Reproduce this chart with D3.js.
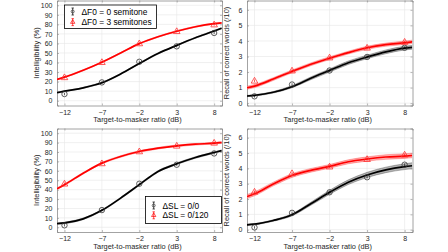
<!DOCTYPE html>
<html lang="en">
<head>
<meta charset="UTF-8">
<title>Intelligibility and recall</title>
<style>
    body { margin: 0; background: #fff; }
    svg { display: block; font-family: "Liberation Sans", Arial, sans-serif; }
</style>
</head>
<body>
<svg id="chart" width="448" height="252"></svg>
<script src="https://cdn.jsdelivr.net/npm/d3@7/dist/d3.min.js"></script>
<script>
// measured conditions (dB)
const tmr = [-12, -7, -2, 3, 8]
const fitX = [-13, -12, -9.5, -7, -4.5, -2, 0.5, 3, 5.5, 8, 9]

// top-left: intelligibility, ΔF0
const intF0zero = [7, 19.2, 40.8, 57, 71]
const intF0three = [24.5, 40.4, 60, 72.8, 79.8]
const fitIntF0zero = [8.4, 10, 13.5, 18.8, 28, 39, 49.5, 58, 66, 73, 76]
const fitIntF0three = [22.4, 24.7, 32, 40.4, 50, 59.8, 67, 72.8, 77.5, 80.7, 81.5]

// top-right: recall, ΔF0
const recF0zero = [0.44, 1.2, 2.1, 2.97, 3.56]
const recF0three = [1.44, 2.09, 2.93, 3.56, 3.94]
const fitRecF0zero = [0.46, 0.5, 0.7, 1.06, 1.6, 2.1, 2.6, 2.97, 3.3, 3.54, 3.59]
const fitRecF0three = [0.99, 1.1, 1.55, 2.04, 2.5, 2.89, 3.25, 3.56, 3.76, 3.88, 3.94]
const bandRecF0zero = [0.04, 0.04, 0.05, 0.07, 0.09, 0.1, 0.11, 0.11, 0.12, 0.12, 0.12]
const bandRecF0three = [0.1, 0.1, 0.09, 0.09, 0.09, 0.09, 0.09, 0.1, 0.1, 0.11, 0.11]

// bottom-left: intelligibility, ΔSL
const intSLzero = [2.1, 18.3, 46.3, 66.5, 78.5]
const intSLhigh = [46.3, 67.9, 80.6, 86.6, 89.8]
const fitIntSLzero = [3.9, 4.6, 9, 18, 31, 45.3, 59.4, 67.5, 74.2, 79.5, 81.5]
const fitIntSLhigh = [41, 45.3, 57.5, 68.2, 75.3, 80.6, 84.1, 86.6, 88.3, 89.4, 90.1]

// bottom-right: recall, ΔSL
const recSLzero = [0.15, 1.1, 2.44, 3.42, 4.24]
const recSLhigh = [2.47, 3.68, 4.11, 4.6, 4.89]
const fitRecSLzero = [0.32, 0.36, 0.6, 0.97, 1.69, 2.44, 3.1, 3.57, 3.9, 4.11, 4.17]
const fitRecSLhigh = [2.16, 2.34, 2.98, 3.53, 3.87, 4.13, 4.43, 4.61, 4.74, 4.8, 4.84]
const bandRecSLzero = [0.04, 0.04, 0.05, 0.07, 0.1, 0.13, 0.15, 0.17, 0.18, 0.19, 0.2]
const bandRecSLhigh = [0.13, 0.13, 0.12, 0.12, 0.12, 0.12, 0.13, 0.14, 0.15, 0.15, 0.15]

const intTicks = d3.range(0, 101, 10)
const recTicks = d3.range(0, 7, 1)
const xLabel = "Target-to-masker ratio (dB)"
const intLabel = "Intelligibility (%)"
const recLabel = "Recall of correct words (/10)"

const black = "#000", red = "#ff0000"

const svg = d3.select("#chart")

const panels = [
    { x0: 57, x1: 222, y0: 0.5, y1: 105.5, dom: [-5, 105], ticks: intTicks, label: intLabel, band: 1,
      series: [[intF0zero, fitIntF0zero, null, black], [intF0three, fitIntF0three, null, red]],
      err: 1.2, legend: ["ΔF0 = 0 semitone", "ΔF0 = 3 semitones"], legPos: "tl" },
    { x0: 247, x1: 412.5, y0: 0.5, y1: 105.5, dom: [-0.15, 6.6], ticks: recTicks, label: recLabel,
      series: [[recF0zero, fitRecF0zero, bandRecF0zero, black], [recF0three, fitRecF0three, bandRecF0three, red]],
      err: 0.08 },
    { x0: 57, x1: 222, y0: 128.5, y1: 232, dom: [-5, 105], ticks: intTicks, label: intLabel, band: 1.3,
      series: [[intSLzero, fitIntSLzero, null, black], [intSLhigh, fitIntSLhigh, null, red]],
      err: 1.2, legend: ["ΔSL = 0/0", "ΔSL = 0/120"], legPos: "br" },
    { x0: 247, x1: 412.5, y0: 128.5, y1: 232, dom: [-0.15, 6.6], ticks: recTicks, label: recLabel,
      series: [[recSLzero, fitRecSLzero, bandRecSLzero, black], [recSLhigh, fitRecSLhigh, bandRecSLhigh, red]],
      err: 0.08 }
]

panels.forEach(p => drawPanel(p))

function drawPanel(p) {
    let x = d3.scaleLinear().domain([-13, 9.05]).range([p.x0, p.x1])
    let y = d3.scaleLinear().domain(p.dom).range([p.y1, p.y0])
    let g = svg.append("g")

    // grid
    g.append("g").selectAll("line").data(p.ticks).join("line")
        .attr("x1", p.x0).attr("x2", p.x1)
        .attr("y1", d => y(d)).attr("y2", d => y(d))
        .attr("stroke", "#e6e6e6").attr("stroke-width", 0.6)
    g.append("g").selectAll("line").data(tmr).join("line")
        .attr("y1", p.y0).attr("y2", p.y1)
        .attr("x1", d => x(d)).attr("x2", d => x(d))
        .attr("stroke", "#e6e6e6").attr("stroke-width", 0.6)

    // axes, ticks inside like the original
    g.append("g").attr("transform", `translate(0,${p.y1})`)
        .call(d3.axisBottom(x).tickValues(tmr).tickFormat(d3.format("d")).tickSize(-2).tickPadding(4.5))
    g.append("g").attr("transform", `translate(${p.x0},0)`)
        .call(d3.axisLeft(y).tickValues(p.ticks).tickFormat(d3.format("d")).tickSize(-2).tickPadding(4.5))
    g.append("g").attr("transform", `translate(0,${p.y0})`)
        .call(d3.axisTop(x).tickValues(tmr).tickSize(-2).tickFormat(""))
    g.append("g").attr("transform", `translate(${p.x1},0)`)
        .call(d3.axisRight(y).tickValues(p.ticks).tickSize(-2).tickFormat(""))
    g.selectAll(".domain").attr("stroke", "#8c8c8c").attr("stroke-width", 0.8)
    g.selectAll(".tick line").attr("stroke", "#8c8c8c").attr("stroke-width", 0.6)
    g.selectAll(".tick text").attr("fill", "#262626").style("font-size", "7px")

    g.append("text").attr("x", (p.x0 + p.x1) / 2 - 2).attr("y", p.y1 + 16.5)
        .attr("text-anchor", "middle").attr("fill", "#262626").style("font-size", "7.4px")
        .text(xLabel)
    g.append("text")
        .attr("transform", `translate(${p.x0 - 18.5},${(p.y0 + p.y1) / 2}) rotate(-90)`)
        .attr("text-anchor", "middle").attr("fill", "#262626").style("font-size", "7.4px")
        .text(p.label)

    let clip = "clip" + p.x0 + "_" + Math.round(p.y0)
    g.append("clipPath").attr("id", clip).append("rect")
        .attr("x", p.x0).attr("y", p.y0).attr("width", p.x1 - p.x0).attr("height", p.y1 - p.y0)
    let plot = g.append("g").attr("clip-path", `url(#${clip})`)

    let line = d3.line().curve(d3.curveMonotoneX)

    p.series.forEach(([pts, fit, band, col]) => {
        let widths = band || fit.map(() => p.band)
        let area = d3.area().curve(d3.curveMonotoneX)
            .x((d, i) => x(fitX[i]))
            .y0((d, i) => y(d - widths[i]))
            .y1((d, i) => y(d + widths[i]))
        let light = col === red ? "#ff9a9a" : "#a0a0a0"
        plot.append("path").attr("d", area(fit)).attr("fill", light).attr("opacity", 0.8)
        if (band) {
            [-1, 1].forEach(s => {
                plot.append("path")
                    .attr("d", line(fit.map((d, i) => [x(fitX[i]), y(d + s * widths[i])])))
                    .attr("fill", "none").attr("stroke", col).attr("stroke-opacity", 0.45)
                    .attr("stroke-width", 0.6)
            })
        }
        plot.append("path").attr("d", line(fit.map((d, i) => [x(fitX[i]), y(d)])))
            .attr("fill", "none").attr("stroke", col).attr("stroke-width", 1.7)

        // error bars
        plot.append("g").selectAll("line").data(pts).join("line")
            .attr("x1", (d, i) => x(tmr[i])).attr("x2", (d, i) => x(tmr[i]))
            .attr("y1", d => y(d - p.err)).attr("y2", d => y(d + p.err))
            .attr("stroke", col).attr("stroke-width", 0.6)

        if (col === black) {
            plot.append("g").selectAll("circle").data(pts).join("circle")
                .attr("cx", (d, i) => x(tmr[i])).attr("cy", d => y(d)).attr("r", 2.7)
                .attr("fill", "none").attr("stroke", "#333").attr("stroke-width", 0.8)
        } else {
            let tri = d3.symbol().type(d3.symbolTriangle).size(19)
            plot.append("g").selectAll("path.tri").data(pts).join("path")
                .attr("class", "tri")
                .attr("transform", (d, i) => `translate(${x(tmr[i])},${y(d) + 0.4})`)
                .attr("d", tri()).attr("fill", "none").attr("stroke", "#ff3030").attr("stroke-width", 0.8)
        }
    })

    if (p.legend) drawLegend(g, p)
}

function drawLegend(g, p) {
    let w = p.legPos === "tl" ? 92 : 76
    let bx = p.legPos === "tl" ? 64.5 : p.x1 - w - 0.5
    let by = p.legPos === "tl" ? 5 : 196.5
    let h = p.legPos === "tl" ? 23.5 : 27
    let lg = g.append("g")
    lg.append("rect").attr("x", bx).attr("y", by).attr("width", w).attr("height", h)
        .attr("fill", "#fff").attr("stroke", "#000").attr("stroke-width", 0.8)
    let cols = [black, red]
    p.legend.forEach((t, i) => {
        let cy = p.legPos === "tl" ? by + 6.5 + i * 10.6 : by + 9 + i * 9.8
        let mx = bx + 8.2
        lg.append("line").attr("x1", mx).attr("x2", mx).attr("y1", cy - 3.5).attr("y2", cy + 3.5)
            .attr("stroke", cols[i]).attr("stroke-width", 0.7)
        lg.append("line").attr("x1", mx - 1.2).attr("x2", mx + 1.2).attr("y1", cy - 3.5).attr("y2", cy - 3.5)
            .attr("stroke", cols[i]).attr("stroke-width", 0.7)
        lg.append("line").attr("x1", mx - 1.2).attr("x2", mx + 1.2).attr("y1", cy + 3.5).attr("y2", cy + 3.5)
            .attr("stroke", cols[i]).attr("stroke-width", 0.7)
        if (i === 0) {
            lg.append("circle").attr("cx", mx).attr("cy", cy).attr("r", 1.5)
                .attr("fill", "none").attr("stroke", "#333").attr("stroke-width", 0.7)
        } else {
            lg.append("path").attr("transform", `translate(${mx},${cy})`)
                .attr("d", d3.symbol().type(d3.symbolTriangle).size(8)())
                .attr("fill", "none").attr("stroke", red).attr("stroke-width", 0.7)
        }
        lg.append("text").attr("x", bx + 17).attr("y", cy + 3)
            .attr("fill", "#000").style("font-size", "8.4px").text(t)
    })
}
</script>
</body>
</html>
